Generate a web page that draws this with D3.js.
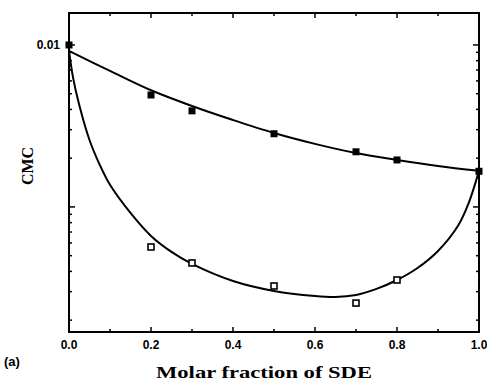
<!DOCTYPE html>
<meta charset="utf-8">
<title>CMC vs molar fraction of SDE</title>
<style>

body {
  margin: 0;
  background: #fff;
}

.frame {
  fill: none;
  stroke: #000;
  stroke-width: 2;
}

.fit {
  fill: none;
  stroke: #000;
  stroke-width: 2;
}

.tick-label {
  font-family: "Liberation Sans", Arial, sans-serif;
  font-weight: bold;
  font-size: 12px;
}

.axis-title {
  font-family: "Liberation Serif", "Times New Roman", serif;
  font-weight: bold;
  font-size: 16px;
}

</style>

<body>
<div id="chart"></div>

<script src="https://d3js.org/d3.v7.min.js"></script>
<script>

// measured points: filled squares (upper) and open squares (lower)
var filledX = [0.0, 0.2, 0.3, 0.5, 0.7, 0.8, 1.0];
var filledCMC = [0.0100, 0.00491, 0.00392, 0.00283, 0.00219, 0.00195, 0.00166];

var openX = [0.2, 0.3, 0.5, 0.7, 0.8];
var openCMC = [0.000566, 0.000451, 0.000325, 0.000255, 0.000354];

// fitted curves
var upperFitX = [0.0, 0.1, 0.2, 0.3, 0.4, 0.5, 0.6, 0.7, 0.8, 0.9, 1.0];
var upperFitCMC = [0.00918, 0.00691, 0.00525, 0.00420, 0.00344, 0.00286, 0.00245, 0.00215, 0.00195, 0.00179, 0.00167];

var lowerFitX = [0.0, 0.01, 0.025, 0.05, 0.075, 0.1, 0.15, 0.2, 0.25, 0.3, 0.4, 0.5, 0.6, 0.65, 0.7, 0.75, 0.8, 0.85, 0.9, 0.95, 0.975, 1.0];
var lowerFitCMC = [0.00918, 0.00626, 0.00426, 0.00259, 0.00182, 0.00137, 0.000918, 0.000662, 0.000528, 0.000445, 0.000349, 0.000303, 0.000282, 0.000278, 0.000286, 0.000312, 0.000354, 0.000420, 0.000535, 0.000774, 0.00106, 0.00167];

// ticks
var xTicks = [0.0, 0.2, 0.4, 0.6, 0.8, 1.0];
var xTickLabels = ["0.0", "0.2", "0.4", "0.6", "0.8", "1.0"];
var xMinorTicks = [0.1, 0.3, 0.5, 0.7, 0.9];
var yLabelTicks = [0.01];
var yTickLabels = ["0.01"];

var yDomain = [0.000169, 0.01575];

// set the dimensions and margins of the graph
var margin = {top: 13, right: 8, bottom: 52, left: 69},
    width = 479 - margin.left,
    height = 332 - margin.top;

var svg = d3.select("#chart").append("svg")
    .attr("width", 487)
    .attr("height", 384)
  .append("g")
    .attr("transform", "translate(" + margin.left + "," + margin.top + ")");

var x = d3.scaleLinear().domain([0, 1]).range([0, width]);
var y = d3.scaleLog().domain(yDomain).range([height, 0]);

// x ticks (bottom pointing up, top pointing down)
var xAll = xTicks.map(function(d) { return {v: d, len: 5}; })
    .concat(xMinorTicks.map(function(d) { return {v: d, len: 3}; }));

svg.append("g").selectAll("line.xb")
    .data(xAll).enter().append("line")
    .attr("x1", function(d) { return x(d.v); })
    .attr("x2", function(d) { return x(d.v); })
    .attr("y1", height)
    .attr("y2", function(d) { return height - d.len; })
    .attr("stroke", "#000").attr("stroke-width", 1.5);

svg.append("g").selectAll("line.xt")
    .data(xAll).enter().append("line")
    .attr("x1", function(d) { return x(d.v); })
    .attr("x2", function(d) { return x(d.v); })
    .attr("y1", 0)
    .attr("y2", function(d) { return d.len; })
    .attr("stroke", "#000").attr("stroke-width", 1.5);

// y ticks on log scale, both sides inward
var yAll = y.ticks().filter(function(d) {
    return d >= yDomain[0] && d <= yDomain[1];
}).map(function(d) {
    var m = d / Math.pow(10, Math.floor(Math.log10(d) + 1e-9));
    return {v: d, len: Math.abs(m - 1) < 1e-6 ? 6 : 3};
});

svg.append("g").selectAll("line.yl")
    .data(yAll).enter().append("line")
    .attr("x1", 0)
    .attr("x2", function(d) { return d.len; })
    .attr("y1", function(d) { return y(d.v); })
    .attr("y2", function(d) { return y(d.v); })
    .attr("stroke", "#000").attr("stroke-width", 1.5);

svg.append("g").selectAll("line.yr")
    .data(yAll).enter().append("line")
    .attr("x1", width)
    .attr("x2", function(d) { return width - d.len; })
    .attr("y1", function(d) { return y(d.v); })
    .attr("y2", function(d) { return y(d.v); })
    .attr("stroke", "#000").attr("stroke-width", 1.5);

// frame
svg.append("rect")
    .attr("class", "frame")
    .attr("x", 0).attr("y", 0)
    .attr("width", width).attr("height", height);

// tick labels
svg.append("g").selectAll("text")
    .data(xTicks).enter().append("text")
    .attr("class", "tick-label")
    .attr("x", function(d) { return x(d); })
    .attr("y", height + 17)
    .attr("text-anchor", "middle")
    .text(function(d, i) { return xTickLabels[i]; });

svg.append("g").selectAll("text")
    .data(yLabelTicks).enter().append("text")
    .attr("class", "tick-label")
    .attr("x", -9)
    .attr("y", function(d) { return y(d); })
    .attr("dy", "0.35em")
    .attr("text-anchor", "end")
    .text(function(d, i) { return yTickLabels[i]; });

// fitted lines
var line = d3.line()
    .x(function(d) { return x(d[0]); })
    .y(function(d) { return y(d[1]); })
    .curve(d3.curveCatmullRom.alpha(0.5));

svg.append("path")
    .attr("class", "fit")
    .attr("d", line(d3.zip(upperFitX, upperFitCMC)));

svg.append("path")
    .attr("class", "fit")
    .attr("d", line(d3.zip(lowerFitX, lowerFitCMC)));

// markers
svg.append("g").selectAll("rect")
    .data(d3.zip(filledX, filledCMC)).enter().append("rect")
    .attr("x", function(d) { return x(d[0]) - 3.5; })
    .attr("y", function(d) { return y(d[1]) - 3.5; })
    .attr("width", 7).attr("height", 7)
    .attr("fill", "#000");

svg.append("g").selectAll("rect")
    .data(d3.zip(openX, openCMC)).enter().append("rect")
    .attr("x", function(d) { return x(d[0]) - 3; })
    .attr("y", function(d) { return y(d[1]) - 3; })
    .attr("width", 6).attr("height", 6)
    .attr("fill", "#fff")
    .attr("stroke", "#000").attr("stroke-width", 1.6);

// axis titles
svg.append("text")
    .attr("class", "axis-title")
    .style("font-size", "17px")
    .attr("x", 264 - margin.left)
    .attr("y", 378 - margin.top)
    .attr("text-anchor", "middle")
    .attr("textLength", 216)
    .attr("lengthAdjust", "spacingAndGlyphs")
    .text("Molar fraction of SDE");

svg.append("text")
    .attr("class", "axis-title")
    .attr("transform", "translate(" + (33 - margin.left) + "," + (166 - margin.top) + ") rotate(-90)")
    .attr("text-anchor", "middle")
    .text("CMC");

svg.append("text")
    .attr("class", "tick-label")
    .style("font-size", "13px")
    .attr("x", 4 - margin.left)
    .attr("y", 366 - margin.top)
    .text("(a)");

</script>
</body>
